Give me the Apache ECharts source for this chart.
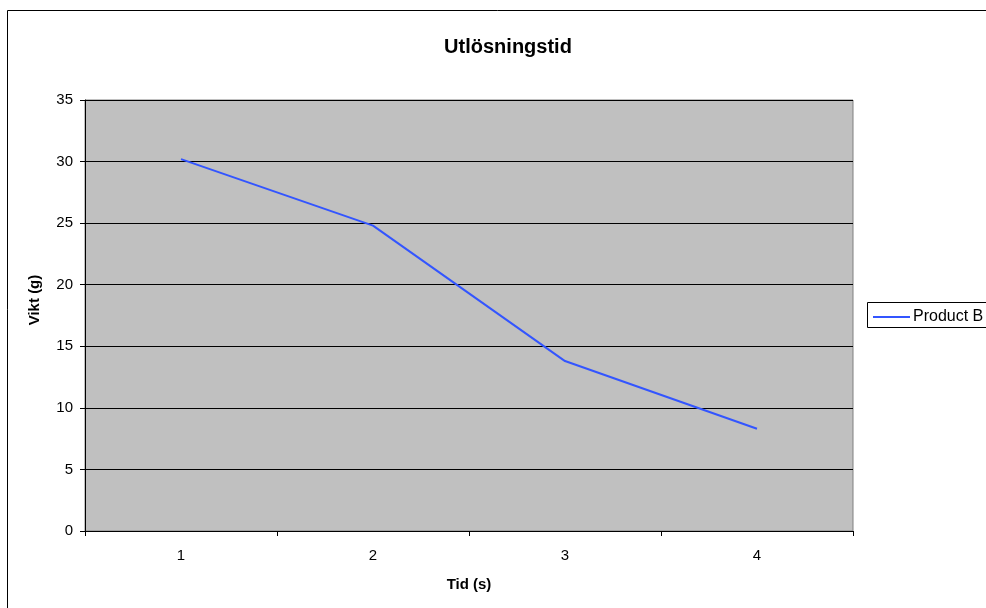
<!DOCTYPE html>
<html><head><meta charset="utf-8">
<script src="https://cdn.jsdelivr.net/npm/echarts@6/dist/echarts.min.js"></script>
<style>html,body{margin:0;padding:0;background:#fff}#c{width:986px;height:608px}</style>
</head><body><div id="c"></div>
<script>
const categories = ['1', '2', '3', '4'];
const productB = [30.2, 24.8, 13.8, 8.3];
const seriesName = 'Product B';
const titleText = 'Utlösningstid';
const xName = 'Tid (s)';
const yName = 'Vikt (g)';

const chart = echarts.init(document.getElementById('c'), null, {renderer: 'canvas'});
const F = 'Arial, "Liberation Sans", sans-serif';
chart.setOption({
  animation: false,
  backgroundColor: '#ffffff',
  title: {text: titleText, left: 503, top: 32, textAlign: 'center',
    textStyle: {fontFamily: F, fontSize: 20, fontWeight: 'bold', color: '#000'}},
  legend: {show: false},
  grid: {left: 85, top: 100, width: 768, height: 431, show: true,
    backgroundColor: '#c0c0c0', borderColor: '#808080', borderWidth: 1},
  xAxis: {type: 'category', data: categories, boundaryGap: true,
    name: xName, nameLocation: 'middle', nameGap: 46,
    nameTextStyle: {fontFamily: F, fontSize: 15, fontWeight: 'bold', color: '#000'},
    axisLine: {lineStyle: {color: '#000', width: 1}},
    axisTick: {show: true, length: 5, inside: false, lineStyle: {color: '#000'}},
    axisLabel: {fontFamily: F, fontSize: 15, color: '#000', margin: 17},
    splitLine: {show: false}},
  yAxis: {type: 'value', min: 0, max: 35, interval: 5,
    axisLine: {show: true, lineStyle: {color: '#000', width: 1}},
    axisTick: {show: true, length: 5, lineStyle: {color: '#000'}},
    axisLabel: {fontFamily: F, fontSize: 15, color: '#000', margin: 12},
    splitLine: {show: true, lineStyle: {color: '#000', width: 1}}},
  series: [{name: seriesName, type: 'line', data: productB, symbol: 'none',
    lineStyle: {color: '#3355ff', width: 2}, itemStyle: {color: '#3355ff'}}],
  graphic: [
    {type: 'rect', shape: {x: 7.5, y: 10.5, width: 1000, height: 700},
      style: {fill: null, stroke: '#000', lineWidth: 1}, z: 100},
    {type: 'text', x: 35, y: 300, rotation: Math.PI / 2,
      style: {text: yName, fontFamily: F, fontSize: 15, fontWeight: 'bold', fill: '#000',
        align: 'center', verticalAlign: 'middle'}, z: 101},
    {type: 'rect', shape: {x: 867.5, y: 302.5, width: 140, height: 25},
      style: {fill: '#fff', stroke: '#000', lineWidth: 1}, z: 100},
    {type: 'line', shape: {x1: 873, y1: 317, x2: 910, y2: 317},
      style: {stroke: '#3355ff', lineWidth: 2}, z: 101},
    {type: 'text', x: 913, y: 317, style: {text: seriesName, fontFamily: F, fontSize: 16,
      fill: '#000', verticalAlign: 'middle', align: 'left'}, z: 101}
  ]
});
</script></body></html>
